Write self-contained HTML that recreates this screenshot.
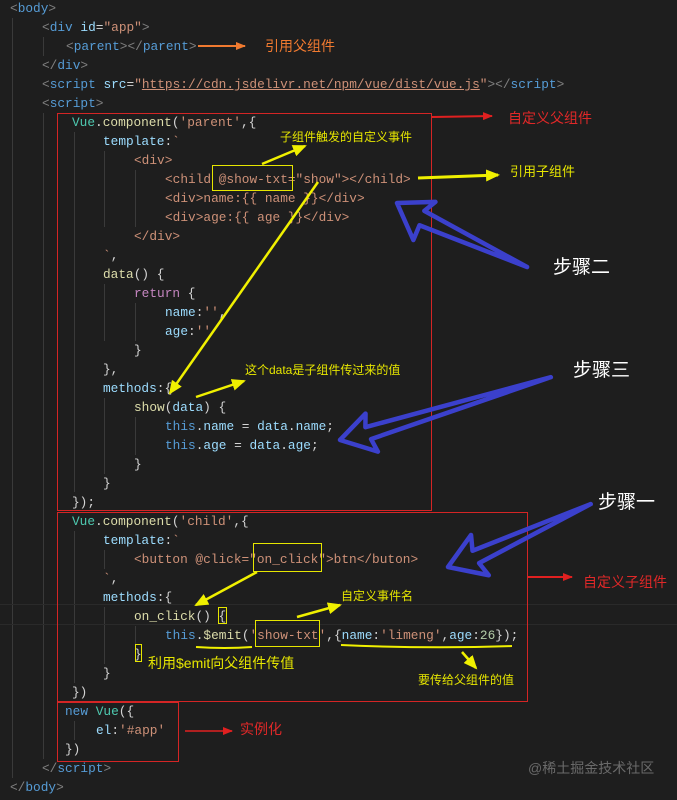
<!DOCTYPE html>
<html><head><meta charset="utf-8"><style>
html,body{margin:0;padding:0;background:#1e1e1e;width:677px;height:800px;overflow:hidden;position:relative}
.l{position:absolute;height:19px;line-height:19px;white-space:pre;font-family:"Liberation Mono",monospace;font-size:12.8px;color:#d4d4d4}
.b{color:#808080}.t{color:#569cd6}.a{color:#9cdcfe}.s{color:#ce9178}.f{color:#dcdcaa}.c{color:#4ec9b0}.k{color:#c586c0}
.g{position:absolute;width:1px;background:#3a3a3a}
.n{position:absolute;font-family:"Liberation Sans","Noto Sans CJK SC",sans-serif;white-space:nowrap;line-height:1}
</style></head><body>
<div class="g" style="left:12px;top:18px;height:760px"></div>
<div class="g" style="left:43px;top:37px;height:19px"></div>
<div class="g" style="left:43px;top:113px;height:646px"></div>
<div class="g" style="left:74px;top:132px;height:360px"></div>
<div class="g" style="left:74px;top:531px;height:152px"></div>
<div class="g" style="left:104px;top:151px;height:76px"></div>
<div class="g" style="left:104px;top:284px;height:57px"></div>
<div class="g" style="left:104px;top:398px;height:76px"></div>
<div class="g" style="left:104px;top:550px;height:19px"></div>
<div class="g" style="left:104px;top:607px;height:57px"></div>
<div class="g" style="left:135px;top:170px;height:57px"></div>
<div class="g" style="left:135px;top:303px;height:38px"></div>
<div class="g" style="left:135px;top:417px;height:38px"></div>
<div class="g" style="left:135px;top:626px;height:19px"></div>
<div class="g" style="left:74px;top:721px;height:19px"></div>
<div style="position:absolute;left:0;top:604px;width:677px;height:19px;border-top:1px solid #2a2a2a;border-bottom:1px solid #2a2a2a"></div>

<div class="l" style="left:10px;top:-1px"><span class="b">&lt;</span><span class="t">body</span><span class="b">&gt;</span></div>
<div class="l" style="left:42px;top:18px"><span class="b">&lt;</span><span class="t">div</span> <span class="a">id</span>=<span class="s">"app"</span><span class="b">&gt;</span></div>
<div class="l" style="left:66px;top:37px"><span class="b">&lt;</span><span class="t">parent</span><span class="b">&gt;&lt;/</span><span class="t">parent</span><span class="b">&gt;</span></div>
<div class="l" style="left:42px;top:56px"><span class="b">&lt;/</span><span class="t">div</span><span class="b">&gt;</span></div>
<div class="l" style="left:42px;top:75px"><span class="b">&lt;</span><span class="t">script</span> <span class="a">src</span>=<span class="s">"<u>https://cdn.jsdelivr.net/npm/vue/dist/vue.js</u>"</span><span class="b">&gt;&lt;/</span><span class="t">script</span><span class="b">&gt;</span></div>
<div class="l" style="left:42px;top:94px"><span class="b">&lt;</span><span class="t">script</span><span class="b">&gt;</span></div>
<div class="l" style="left:72px;top:113px"><span class="c">Vue</span>.<span class="f">component</span>(<span class="s">'parent'</span>,{</div>
<div class="l" style="left:103px;top:132px"><span class="a">template</span>:<span class="s">`</span></div>
<div class="l s" style="left:134px;top:151px">&lt;div&gt;</div>
<div class="l s" style="left:165px;top:170px">&lt;child @show-txt="show"&gt;&lt;/child&gt;</div>
<div class="l s" style="left:165px;top:189px">&lt;div&gt;name:{{ name }}&lt;/div&gt;</div>
<div class="l s" style="left:165px;top:208px">&lt;div&gt;age:{{ age }}&lt;/div&gt;</div>
<div class="l s" style="left:134px;top:227px">&lt;/div&gt;</div>
<div class="l" style="left:103px;top:246px"><span class="s">`</span>,</div>
<div class="l" style="left:103px;top:265px"><span class="f">data</span>() {</div>
<div class="l" style="left:134px;top:284px"><span class="k">return</span> {</div>
<div class="l" style="left:165px;top:303px"><span class="a">name</span>:<span class="s">''</span>,</div>
<div class="l" style="left:165px;top:322px"><span class="a">age</span>:<span class="s">''</span></div>
<div class="l" style="left:134px;top:341px">}</div>
<div class="l" style="left:103px;top:360px">},</div>
<div class="l" style="left:103px;top:379px"><span class="a">methods</span>:{</div>
<div class="l" style="left:134px;top:398px"><span class="f">show</span>(<span class="a">data</span>) {</div>
<div class="l" style="left:165px;top:417px"><span class="t">this</span>.<span class="a">name</span> = <span class="a">data</span>.<span class="a">name</span>;</div>
<div class="l" style="left:165px;top:436px"><span class="t">this</span>.<span class="a">age</span> = <span class="a">data</span>.<span class="a">age</span>;</div>
<div class="l" style="left:134px;top:455px">}</div>
<div class="l" style="left:103px;top:474px">}</div>
<div class="l" style="left:72px;top:493px">});</div>
<div class="l" style="left:72px;top:512px"><span class="c">Vue</span>.<span class="f">component</span>(<span class="s">'child'</span>,{</div>
<div class="l" style="left:103px;top:531px"><span class="a">template</span>:<span class="s">`</span></div>
<div class="l s" style="left:134px;top:550px">&lt;button @click="on_click"&gt;btn&lt;/buton&gt;</div>
<div class="l" style="left:103px;top:569px"><span class="s">`</span>,</div>
<div class="l" style="left:103px;top:588px"><span class="a">methods</span>:{</div>
<div class="l" style="left:134px;top:607px"><span class="f">on_click</span>() {</div>
<div class="l" style="left:165px;top:626px"><span class="t">this</span>.<span class="f">$emit</span>(<span class="s">'show-txt'</span>,{<span class="a">name</span>:<span class="s">'limeng'</span>,<span class="a">age</span>:<span class="s" style="color:#b5cea8">26</span>});</div>
<div class="l" style="left:134px;top:645px">}</div>
<div class="l" style="left:103px;top:664px">}</div>
<div class="l" style="left:72px;top:683px">})</div>
<div class="l" style="left:65px;top:702px"><span class="t">new</span> <span class="c">Vue</span>({</div>
<div class="l" style="left:96px;top:721px"><span class="a">el</span>:<span class="s">'#app'</span></div>
<div class="l" style="left:65px;top:740px">})</div>
<div class="l" style="left:42px;top:759px"><span class="b">&lt;/</span><span class="t">script</span><span class="b">&gt;</span></div>
<div class="l" style="left:10px;top:778px"><span class="b">&lt;/</span><span class="t">body</span><span class="b">&gt;</span></div>

<svg width="677" height="800" style="position:absolute;left:0;top:0" xmlns="http://www.w3.org/2000/svg">
<defs>
<marker id="ayb" markerWidth="14" markerHeight="12" refX="12" refY="6" orient="auto" markerUnits="userSpaceOnUse"><path d="M0,0 L14,6 L0,12 z" fill="#f0f000"/></marker>
<marker id="ar" markerWidth="10" markerHeight="8" refX="9" refY="4" orient="auto" markerUnits="userSpaceOnUse"><path d="M0,0 L10,4 L0,8 z" fill="#e02020"/></marker>
<marker id="ao" markerWidth="10" markerHeight="8" refX="9" refY="4" orient="auto" markerUnits="userSpaceOnUse"><path d="M0,0 L10,4 L0,8 z" fill="#f07a30"/></marker>
</defs>
<g fill="none" stroke="#d42525" stroke-width="1">
<rect x="57.5" y="113.5" width="374" height="397"/>
<rect x="57.5" y="512.5" width="470" height="189"/>
<rect x="57.5" y="702.5" width="121" height="59"/>
</g>
<g fill="none" stroke="#e6e600" stroke-width="1">
<rect x="212.5" y="165.5" width="80" height="25"/>
<rect x="253.5" y="543.5" width="68" height="28"/>
<rect x="255.5" y="620.5" width="64" height="26"/>
<rect x="218.5" y="607.5" width="8" height="16"/>
<rect x="135.5" y="644.5" width="6" height="17"/>
</g>
<line x1="198" y1="46" x2="245" y2="46" stroke="#f07a30" stroke-width="2" marker-end="url(#ao)"/>
<line x1="432" y1="117" x2="492" y2="116" stroke="#e02020" stroke-width="2" marker-end="url(#ar)"/>
<line x1="528" y1="577" x2="572" y2="577" stroke="#e02020" stroke-width="2" marker-end="url(#ar)"/>
<line x1="185" y1="731" x2="232" y2="731" stroke="#b02020" stroke-width="2" marker-end="url(#ar)"/>
<g stroke="#f0f000" stroke-width="2.5">
<line x1="262" y1="164" x2="305" y2="146" marker-end="url(#ayb)"/>
<line x1="418" y1="178" x2="498" y2="175" stroke-width="3" marker-end="url(#ayb)"/>
<line x1="318" y1="182" x2="170" y2="393" marker-end="url(#ayb)"/>
<line x1="196" y1="397" x2="244" y2="381" marker-end="url(#ayb)"/>
<line x1="257" y1="572" x2="196" y2="605" marker-end="url(#ayb)"/>
<line x1="297" y1="617" x2="340" y2="605" marker-end="url(#ayb)"/>
<line x1="462" y1="652" x2="476" y2="668" marker-end="url(#ayb)"/>
</g>
<g stroke="#f0f000" stroke-width="2" fill="none">
<path d="M196,647 Q225,649 252,647"/>
<path d="M341,645 Q430,649 512,646"/>
</g>
<g fill="none" stroke="#3b40cc" stroke-width="4.5" stroke-linejoin="round">
<path transform="translate(397,203) rotate(26.2)" d="M0,0 L34,-18 L28,-5 L145,0 L30,10 L31,26 Z"/>
<path transform="translate(340,440) rotate(-16.6)" d="M0,0 L32,-18 L28,-5 L220,0 L30,8 L33,22 Z"/>
<path transform="translate(448,567) rotate(-23.8)" d="M0,0 L34,-20 L29,-5 L156,0 L30,9 L34,24 Z"/>
</g>
</svg>

<div class="n" style="left:265px;top:39px;font-size:14px;color:#f07a30">引用父组件</div>
<div class="n" style="left:508px;top:111px;font-size:14px;color:#e02828">自定义父组件</div>
<div class="n" style="left:280px;top:131px;font-size:12px;color:#e6e600">子组件触发的自定义事件</div>
<div class="n" style="left:510px;top:165px;font-size:13px;color:#e6e600">引用子组件</div>
<div class="n" style="left:553px;top:258px;font-size:19px;color:#ffffff">步骤二</div>
<div class="n" style="left:245px;top:364px;font-size:12px;color:#e6e600">这个data是子组件传过来的值</div>
<div class="n" style="left:573px;top:361px;font-size:19px;color:#ffffff">步骤三</div>
<div class="n" style="left:598px;top:493px;font-size:19px;color:#ffffff">步骤一</div>
<div class="n" style="left:583px;top:575px;font-size:14px;color:#e02828">自定义子组件</div>
<div class="n" style="left:341px;top:590px;font-size:12px;color:#e6e600">自定义事件名</div>
<div class="n" style="left:148px;top:656px;font-size:14px;color:#e6e600">利用$emit向父组件传值</div>
<div class="n" style="left:418px;top:674px;font-size:12px;color:#e6e600">要传给父组件的值</div>
<div class="n" style="left:240px;top:722px;font-size:14px;color:#e02828">实例化</div>
<div class="n" style="left:528px;top:761px;font-size:14px;color:#6a6a6a">@稀土掘金技术社区</div>
</body></html>
